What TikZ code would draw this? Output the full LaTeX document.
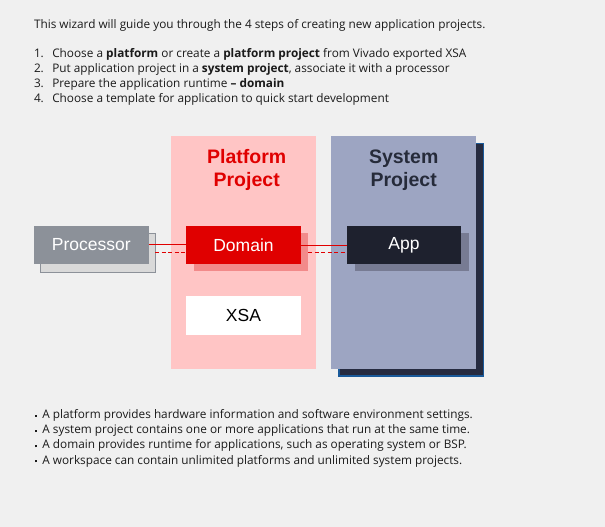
\documentclass[tikz,border=0pt]{standalone}
\usepackage{fontspec}
\setmainfont{Liberation Sans}
\newfontfamily\uifont{Open Sans}
\definecolor{bg}{HTML}{F0F0F0}
\definecolor{txt}{HTML}{1A1A1A}
\definecolor{platfill}{HTML}{FFC5C5}
\definecolor{xred}{HTML}{E00000}
\definecolor{domsh}{HTML}{F28A8A}
\definecolor{procfill}{HTML}{8C9199}
\definecolor{procsh}{HTML}{D9D9D9}
\definecolor{sysfill}{HTML}{9DA5C2}
\definecolor{systitle}{HTML}{262B3A}
\definecolor{sysshfill}{HTML}{262B40}
\definecolor{sysshborder}{HTML}{1A5A9A}
\definecolor{appfill}{HTML}{1E212E}
\definecolor{appsh}{HTML}{777B93}
\newcommand\sqbullet{\raisebox{1.6pt}{\rule{2.2pt}{2.2pt}}\hspace{5pt}}
\tikzset{
  every node/.style={inner sep=0pt, outer sep=0pt},
  body/.style={anchor=base west, text=txt, font=\uifont\fontsize{11.8}{13}\selectfont},
  blk/.style={minimum width=115pt, minimum height=38pt, font=\fontsize{17.5}{20}\selectfont},
  title/.style={align=center, font=\bfseries\fontsize{19.5}{23}\selectfont},
  link/.style={draw=xred, line width=1pt},
  dlink/.style={draw=xred, line width=1pt, dash pattern=on 4pt off 2.5pt},
}
\begin{document}
\begin{tikzpicture}[x=1pt, y=-1pt]
\useasboundingbox[fill=bg] (0,0) rectangle (605,527);
% intro text
\node[body] (intro) at (34,28.3) {This wizard will guide you through the 4 steps of creating new application projects.};
\node[body] (n1) at (34,57.3) {1.};
\node[body] (l1) at (52.3,57.3) {Choose a \textbf{platform} or create a \textbf{platform project} from Vivado exported XSA};
\node[body] (n2) at (34,72.7) {2.};
\node[body] (l2) at (52.3,72.7) {Put application project in a \textbf{system project}, associate it with a processor};
\node[body] (n3) at (34,87.3) {3.};
\node[body] (l3) at (52.3,87.3) {Prepare the application runtime \textbf{– domain}};
\node[body] (n4) at (34,102.3) {4.};
\node[body] (l4) at (52.3,102.3) {Choose a template for application to quick start development};
% containers
\node[fill=platfill, minimum width=145pt, minimum height=232.7pt] (plat) at (243.5,252.35) {};
\node[fill=sysshfill, draw=sysshborder, line width=1.5pt, minimum width=144.5pt, minimum height=232.5pt] (syssh) at (411.3,259.6) {};
\node[fill=sysfill, minimum width=144.7pt, minimum height=232.7pt] (sys) at (403.35,252.35) {};
\node[title, text=xred] (plattitle) at (246.7,170) {Platform\\Project};
\node[title, text=systitle] (systitle) at (403.7,170) {System\\Project};
% shadows
\node[blk, fill=procsh, draw=procfill, line width=1pt, minimum width=114.4pt, minimum height=38.7pt] (procs) at (98,252.85) {};
\node[blk, fill=domsh, minimum width=114pt] (doms) at (251,252.35) {};
\node[blk, fill=appsh, minimum width=114pt] (apps) at (412,252.35) {};
% blocks
\node[blk, fill=procfill, text=white, minimum width=114.7pt, minimum height=37.7pt] (proc) at (91.35,244.85) {Processor};
\node[blk, fill=xred, text=white] (dom) at (243.5,245) {Domain};
\node[blk, fill=white, text=black, minimum height=38.7pt] (xsa) at (243.5,315.35) {XSA};
\node[blk, fill=appfill, text=white, minimum width=114pt, minimum height=37.7pt] (app) at (404,244.85) {App};
% connectors
\draw[link] (proc.east) -- (proc.east -| dom.west);
\draw[link] (dom.east) -- (dom.east -| app.west);
\draw[dlink] (doms.east |- 0,252.3) -- (app.west |- 0,252.3);
\draw[dlink] (procs.east |- 0,252.3) -- (dom.west |- 0,252.3);
% notes
\node[body] (b1) at (35.2,418.3) {\sqbullet A platform provides hardware information and software environment settings.};
\node[body] (b2) at (35.2,433.6) {\sqbullet A system project contains one or more applications that run at the same time.};
\node[body] (b3) at (35.2,448.9) {\sqbullet A domain provides runtime for applications, such as operating system or BSP.};
\node[body] (b4) at (35.2,464) {\sqbullet A workspace can contain unlimited platforms and unlimited system projects.};
\end{tikzpicture}
\end{document}
